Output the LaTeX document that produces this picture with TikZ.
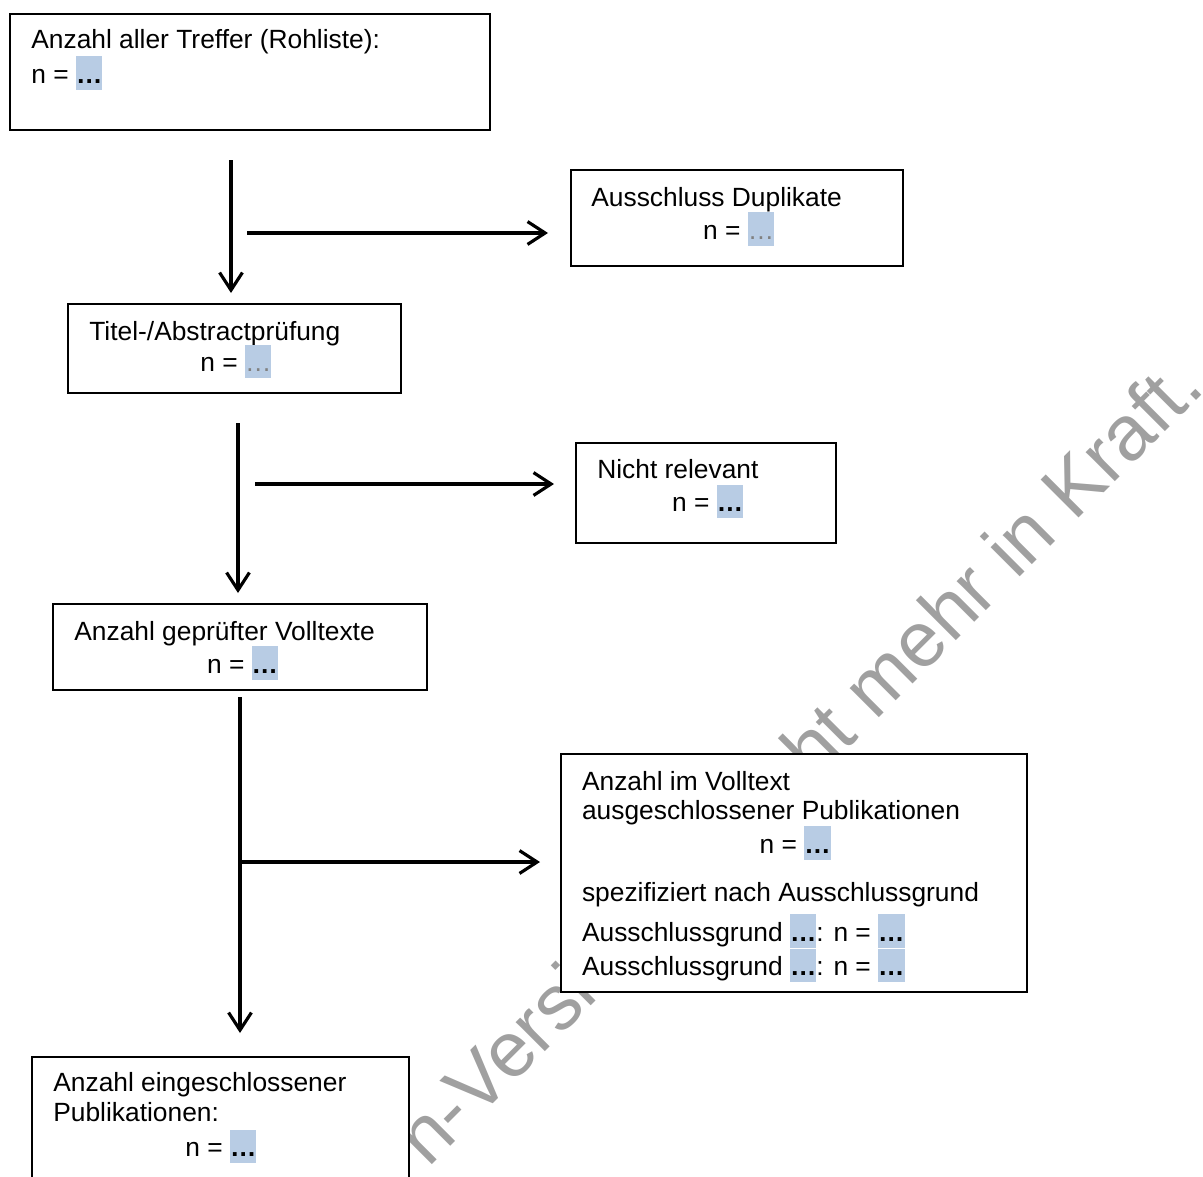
\documentclass[tikz,border=0pt]{standalone}
\usepackage{fontspec}
\setmainfont{Liberation Sans}
\usetikzlibrary{arrows.meta,fit}
\definecolor{hlblue}{RGB}{184,204,228}
\definecolor{wmgray}{RGB}{160,160,160}
\newcommand{\nbold}{{\setlength{\fboxsep}{0pt}\colorbox{hlblue}{\rule[-3.7pt]{0pt}{19.1pt}\textbf{…}}}}
\newcommand{\ngrey}{{\setlength{\fboxsep}{0pt}\colorbox{hlblue}{\rule[-3.7pt]{0pt}{19.1pt}\textcolor{gray}{…}}}}
\tikzset{
  box/.style={draw, line width=1.1pt, fill=white, inner sep=0pt},
  txt/.style={anchor=base west, inner sep=0pt, font=\fontsize{15pt}{17pt}\selectfont},
  arr/.style={line width=1.8pt, -{Straight Barb[length=10pt,width=13pt]}},
}
\begin{document}
\begin{tikzpicture}[x=0.02cm, y=-0.02cm]
        \useasboundingbox (0,0) rectangle (1203,1176);
        % watermark behind the boxes
        \node[anchor=base west, inner sep=0pt, rotate=45, text=wmgray, font=\fontsize{44.4pt}{46pt}\selectfont] (wm) at (428,1169) {n-Version\hspace{54pt} nicht mehr in Kraft.};
        % boxes
        \node[box, fit={(10,14) (490,130)}] (treffer) {};
        \node[box, fit={(571,170) (903,266)}] (dupl) {};
        \node[box, fit={(68,304) (401,393)}] (titel) {};
        \node[box, fit={(576,443) (836,543)}] (nrel) {};
        \node[box, fit={(53,604) (427,690)}] (volltext) {};
        \node[box, fit={(561,754) (1027,992)}] (ausgeschl) {};
        \node[box, fit={(32,1057) (409,1220)}] (eingeschl) {};
        % texts
        \node[txt] (treffer-t) at (31,48.3) {Anzahl aller Treffer (Rohliste):};
        \node[txt] (treffer-n) at (31,83.3) {n = \nbold};
        \node[txt] (dupl-t) at (591,206) {Ausschluss Duplikate};
        \node[txt] (dupl-n) at (702.7,239) {n = \ngrey};
        \node[txt] (titel-t) at (89,340) {Titel-/Abstractprüfung};
        \node[txt] (titel-n) at (200,371.7) {n = \ngrey};
        \node[txt] (nrel-t) at (597,478.3) {Nicht relevant};
        \node[txt] (nrel-n) at (671.7,511.7) {n = \nbold};
        \node[txt] (volltext-t) at (74,640) {Anzahl geprüfter Volltexte};
        \node[txt] (volltext-n) at (206.7,673.3) {n = \nbold};
        \node[txt] (ausgeschl-t1) at (581.7,790) {Anzahl im Volltext};
        \node[txt] (ausgeschl-t2) at (581.7,819) {ausgeschlossener Publikationen};
        \node[txt] (ausgeschl-n) at (759.3,853.3) {n = \nbold};
        \node[txt] (ausgeschl-s) at (581.7,901) {spezifiziert nach Ausschlussgrund};
        \node[txt] (ausgeschl-g1) at (581.7,941) {Ausschlussgrund \nbold: n = \nbold};
        \node[txt] (ausgeschl-g2) at (581.7,975.7) {Ausschlussgrund \nbold: n = \nbold};
        \node[txt] (eingeschl-t1) at (53,1091.7) {Anzahl eingeschlossener};
        \node[txt] (eingeschl-t2) at (53,1121.7) {Publikationen:};
        \node[txt] (eingeschl-n) at (185,1156.7) {n = \nbold};
        % arrows
        \coordinate (d1a) at (231,160);
        \coordinate (d1b) at (231,293);
        \coordinate (r1a) at (247,233);
        \coordinate (r1b) at (548,233);
        \coordinate (d2a) at (238,423);
        \coordinate (d2b) at (238,593);
        \coordinate (r2a) at (255,484);
        \coordinate (r2b) at (554,484);
        \coordinate (d3a) at (240,697);
        \coordinate (d3b) at (240,1033);
        \coordinate (r3a) at (240,862);
        \coordinate (r3b) at (540,862);
        \draw[arr] (d1a) -- (d1b);
        \draw[arr] (r1a) -- (r1b);
        \draw[arr] (d2a) -- (d2b);
        \draw[arr] (r2a) -- (r2b);
        \draw[arr] (d3a) -- (d3b);
        \draw[arr] (r3a) -- (r3b);
\end{tikzpicture}
\end{document}
